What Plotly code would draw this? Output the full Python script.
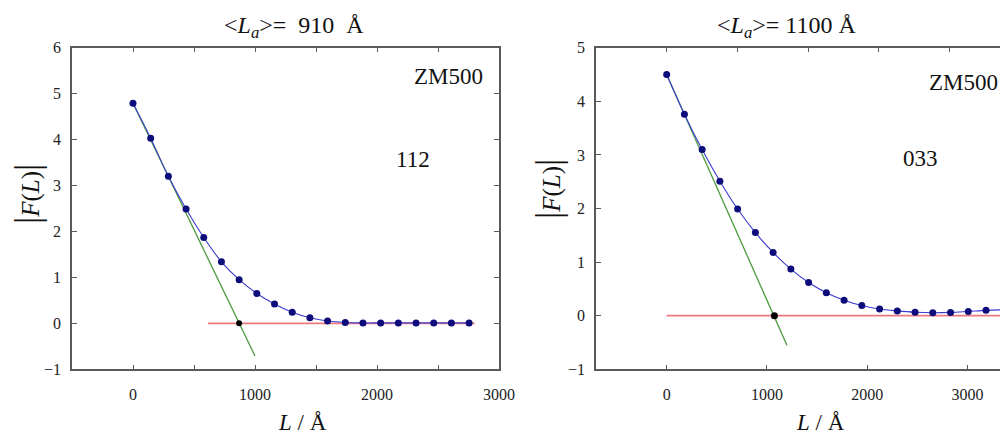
import plotly.graph_objects as go

W, H = 1008, 439
OFF = 8  # page body margin offset of the plot div

# ---------------- data ----------------
L_step_112 = 145
F_112 = [4.79, 4.03, 3.20, 2.49, 1.87, 1.34, 0.95, 0.65, 0.42, 0.24,
         0.12, 0.05, 0.02, 0.01, 0.01, 0.01, 0.01, 0.01, 0.01, 0.01]
L_112 = [i * L_step_112 for i in range(len(F_112))]
tangent_112_x = [0, 1000]
tangent_112_y = [4.79, -0.71]
base_112_x = [614, 2800]
base_112_y = [0, 0]
La_112 = [870]

L_step_033 = 177
F_033 = [4.50, 3.76, 3.10, 2.51, 1.99, 1.55, 1.18, 0.87, 0.62, 0.43,
         0.29, 0.19, 0.125, 0.09, 0.065, 0.056, 0.062, 0.08, 0.10, 0.11]
L_033 = [i * L_step_033 for i in range(len(F_033))]
tangent_033_x = [0, 1200]
tangent_033_y = [4.50, -0.55]
base_033_x = [0, 3360]
base_033_y = [0, 0]
La_033 = [1075]

FONT = "Liberation Serif"
FRAME = "#5a5a5a"

def px(x):
    return (x - OFF) / W

def py(y):
    return 1 - (y - OFF) / H

fig = go.Figure()

# ---- left panel ----
fig.add_trace(go.Scatter(x=tangent_112_x, y=tangent_112_y, mode="lines",
                         line=dict(color="#4a9a3a", width=1.3), xaxis="x", yaxis="y"))
fig.add_trace(go.Scatter(x=base_112_x, y=base_112_y, mode="lines",
                         line=dict(color="#ee7a80", width=1.8), xaxis="x", yaxis="y"))
fig.add_trace(go.Scatter(x=L_112, y=F_112, mode="lines+markers",
                         line=dict(color="#3a3ad0", width=1.1, shape="spline"),
                         marker=dict(color="#0c0c7a", size=7), xaxis="x", yaxis="y"))
fig.add_trace(go.Scatter(x=La_112, y=[0], mode="markers",
                         marker=dict(color="black", size=6), xaxis="x", yaxis="y"))

# ---- right panel ----
fig.add_trace(go.Scatter(x=tangent_033_x, y=tangent_033_y, mode="lines",
                         line=dict(color="#4a9a3a", width=1.3), xaxis="x2", yaxis="y2"))
fig.add_trace(go.Scatter(x=base_033_x, y=base_033_y, mode="lines",
                         line=dict(color="#ee7a80", width=1.8), xaxis="x2", yaxis="y2"))
fig.add_trace(go.Scatter(x=L_033, y=F_033, mode="lines+markers",
                         line=dict(color="#3a3ad0", width=1.1, shape="spline"),
                         marker=dict(color="#0c0c7a", size=7), xaxis="x2", yaxis="y2"))
fig.add_trace(go.Scatter(x=La_033, y=[0], mode="markers",
                         marker=dict(color="black", size=7), xaxis="x2", yaxis="y2"))
# trace so the mirrored top axis of the right panel renders
fig.add_trace(go.Scatter(x=[None], y=[None], xaxis="x3", yaxis="y2"))

tickfont = dict(family=FONT, size=16, color="#222")
ydom = [py(369.3), py(47.7)]

common = dict(automargin=False, showgrid=False, zeroline=False,
              ticks="inside", ticklen=5, tickcolor=FRAME,
              showline=True, linecolor=FRAME, linewidth=1.5)

# right panel runs past the visible edge: 100 px per 1000 Å
r_end = 3405 + OFF * 10

fig.update_layout(
    width=W, height=H,
    margin=dict(l=0, r=0, t=0, b=0, pad=0),
    paper_bgcolor="white", plot_bgcolor="white",
    showlegend=False,
    xaxis=dict(domain=[px(72), px(499)], range=[-500, 3000], dtick=1000, tick0=0,
               minor=dict(dtick=500, tick0=0, ticks="inside", ticklen=5, tickcolor=FRAME),
               mirror="ticks", tickfont=tickfont, ticklabelstandoff=10, **common),
    yaxis=dict(domain=ydom, range=[-1, 6], dtick=1, mirror="ticks",
               tickfont=tickfont, ticklabelstandoff=6, **common),
    xaxis2=dict(domain=[px(596), 1.0], range=[-705, r_end], dtick=1000, tick0=0,
                anchor="y2", mirror=False, tickfont=tickfont, ticklabelstandoff=10,
                **common),
    xaxis3=dict(domain=[px(596), 1.0], range=[-705, r_end], dtick=705, tick0=0,
                anchor="y2", side="top", overlaying="x2", showticklabels=False,
                **common),
    yaxis2=dict(domain=ydom, range=[-1, 5], dtick=1, anchor="x2", mirror=False,
                tickfont=tickfont, ticklabelstandoff=6, **common),
)

def ann(text, x, y, size, angle=0):
    fig.add_annotation(text=text, x=px(x), y=py(y), xref="paper", yref="paper",
                       showarrow=False, textangle=angle,
                       font=dict(family=FONT, size=size, color="#111"),
                       xanchor="center", yanchor="middle")

ann("&lt;<i>L<sub>a</sub></i>&gt;=  910  Å", 294, 27, 24)
ann("&lt;<i>L<sub>a</sub></i>&gt;= 1100 Å", 786, 27, 24)
ann("ZM500", 448, 76, 23)
ann("112", 413, 159, 23)
ann("ZM500", 963, 83, 23)
ann("033", 920, 158, 23)
ylab = ("<span style='font-size:36px'>|</span><i>F</i>(<i>L</i>)"
        "<span style='font-size:36px'>|</span>")
ann(ylab, 27, 194, 25, -90)
ann(ylab, 548, 189, 25, -90)
ann("<i>L</i> / Å", 302, 422, 23)
ann("<i>L</i> / Å", 820, 422, 23)

fig.write_html("out.html")
